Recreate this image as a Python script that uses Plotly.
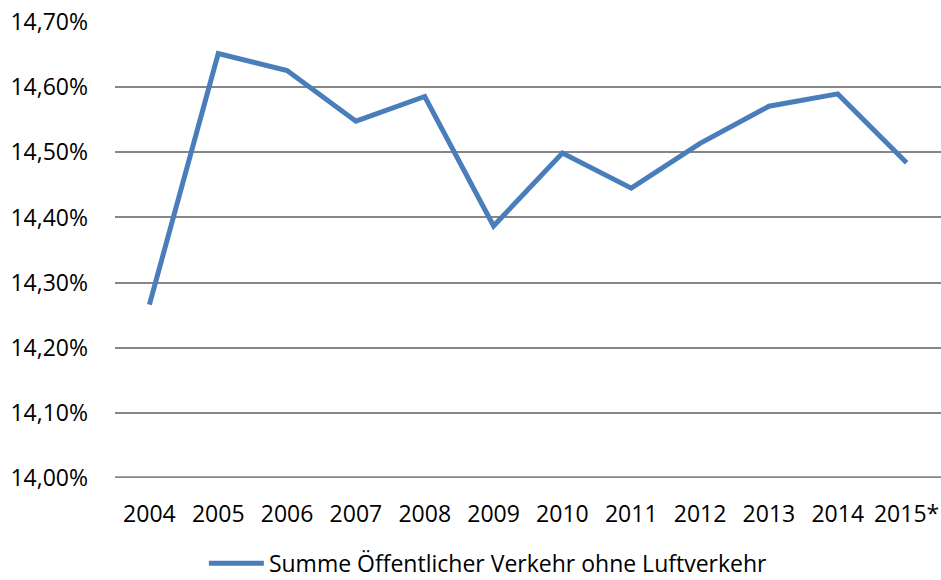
import plotly.graph_objects as go

years = ['2004', '2005', '2006', '2007', '2008', '2009', '2010', '2011', '2012', '2013', '2014', '2015*']
share = [14.266, 14.652, 14.626, 14.548, 14.586, 14.387, 14.499, 14.445, 14.514, 14.571, 14.590, 14.484]
tick_vals = [14.0, 14.1, 14.2, 14.3, 14.4, 14.5, 14.6, 14.7]
tick_text = ['14,00%', '14,10%', '14,20%', '14,30%', '14,40%', '14,50%', '14,60%', '14,70%']


def plot():
    fig = go.Figure()

    fig.add_trace(
        go.Scatter(
            x=years, y=share, mode='lines',
            name='Summe Öffentlicher Verkehr ohne Luftverkehr',
            line=dict(color='#4a7ebb', width=5)
        )
    )

    fig.update_layout(
        width=941, height=580,
        margin=dict(l=115, r=0, t=22, b=102, autoexpand=False),
        plot_bgcolor='white', paper_bgcolor='white',
        font=dict(family='Open Sans', size=23, color='black'),
        showlegend=True,
        legend=dict(orientation='h', xref='container', yref='container',
                    x=0.519, xanchor='center', y=0.029, yanchor='middle',
                    font=dict(size=23), itemwidth=55),
        xaxis=dict(range=[-0.5, 11.5], showgrid=False, ticks='', ticklabelstandoff=20,
                   showline=False, automargin=False),
        yaxis=dict(range=[13.9995, 14.7005], tickvals=tick_vals, ticktext=tick_text,
                   showgrid=True, gridcolor='#868686', gridwidth=2,
                   zeroline=False, showline=False, ticks='', ticklabelstandoff=26,
                   automargin=False),
    )
    fig.add_shape(type='line', xref='paper', yref='y', x0=0, x1=1, y0=14.0, y1=14.0,
                  line=dict(color='#868686', width=3), layer='below')

    fig.write_html("out.html", config={'displayModeBar': False},
                   post_script="document.body.style.margin='0';")


if __name__ == "__main__":
    plot()
